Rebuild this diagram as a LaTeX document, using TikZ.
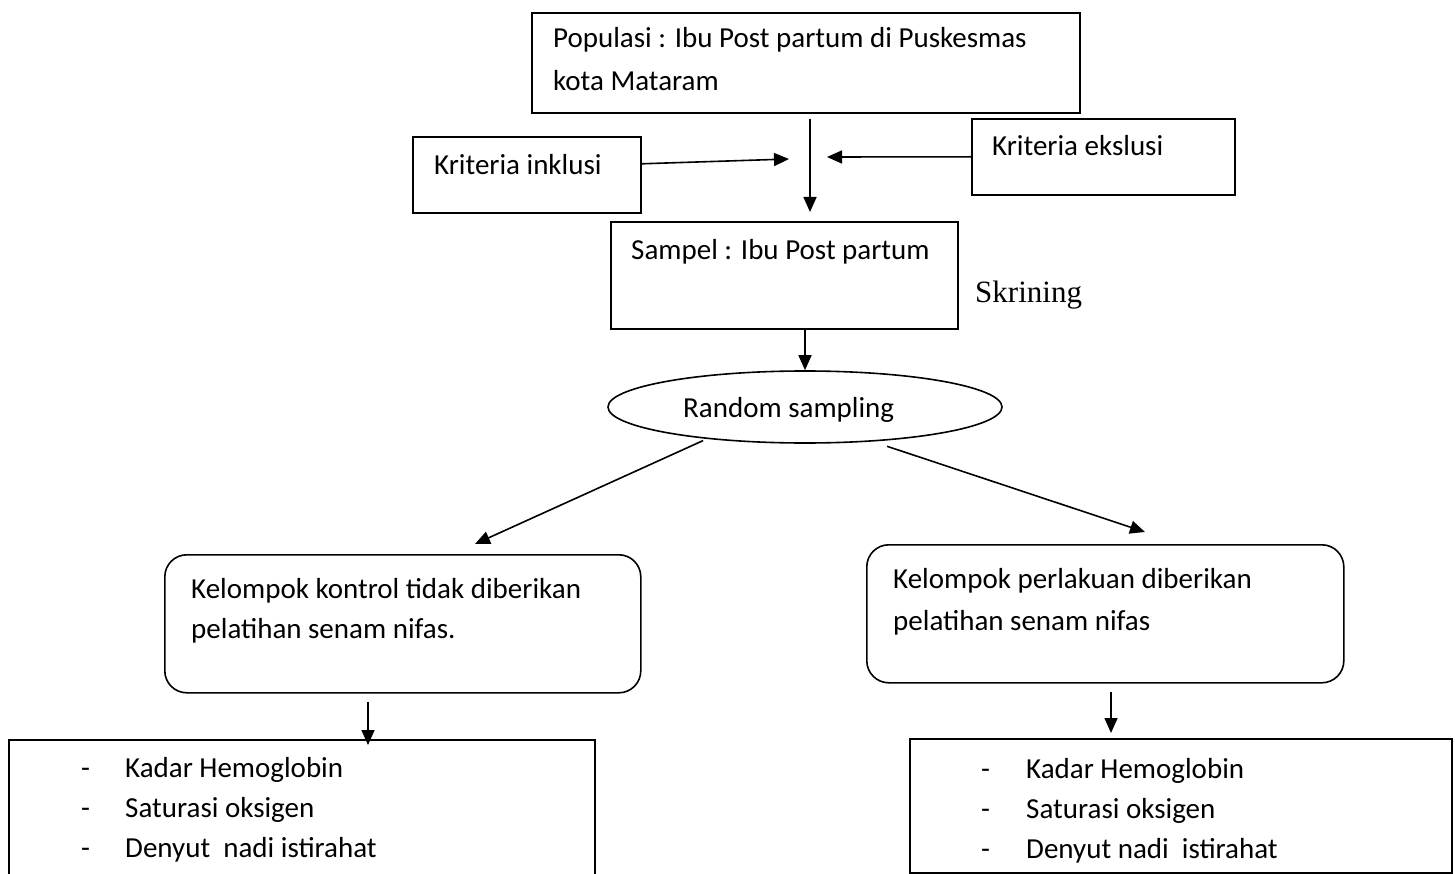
\documentclass[tikz,border=0pt]{standalone}
\usepackage{fontspec}
\setmainfont{Carlito}
\newfontfamily\skrfont{Liberation Serif}
\usetikzlibrary{arrows.meta,shapes.geometric}
\tikzset{
	kasten/.style={draw, line width=1.6pt, anchor=north west, inner sep=0pt},
	rkasten/.style={kasten, rounded corners=22pt},
	txt/.style={anchor=base west, inner sep=0pt, font=\fontsize{29}{43}\selectfont},
	pfeil/.style={line width=1.6pt, -{Triangle[length=15pt,width=13pt]}}
}
\begin{document}
\begin{tikzpicture}[x=1pt,y=-1pt]
	\useasboundingbox (0,0) rectangle (1455,874);
	\clip (0,0) rectangle (1455,874);
	% Populasi
	\node [kasten, minimum width=548pt, minimum height=100pt] (pop) at (531,12) {};
	\node [txt] (popA) at (553,48) {Populasi : Ibu Post partum di Puskesmas};
	\node [txt] (popB) at (553,91) {kota Mataram};
	% Kriterien
	\node [kasten, minimum width=228pt, minimum height=76pt] (inkl) at (412,136) {};
	\node [txt] (inklT) at (434,175) {Kriteria inklusi};
	\node [kasten, minimum width=263pt, minimum height=76pt] (eksl) at (971,118) {};
	\node [txt] (ekslT) at (992,156) {Kriteria ekslusi};
	% Sampel
	\node [kasten, minimum width=347pt, minimum height=107pt] (sampel) at (610,221) {};
	\node [txt] (sampelT) at (631,260) {Sampel : Ibu Post partum};
	\node [anchor=base west, inner sep=0pt, font=\skrfont\fontsize{31}{31}\selectfont] (skr) at (975,302) {Skrining};
	% Random sampling
	\node [draw, ellipse, line width=1.6pt, inner sep=0pt, minimum width=394pt, minimum height=72pt] (rand) at (805,407) {};
	\node [txt] (randT) at (683,417) {Random sampling};
	% Kelompok
	\node [rkasten, minimum width=476pt, minimum height=138pt] (kontrol) at (164,554) {};
	\node [txt] (kontrolA) at (191,598) {Kelompok kontrol tidak diberikan};
	\node [txt] (kontrolB) at (191,638) {pelatihan senam nifas.};
	\node [rkasten, minimum width=477pt, minimum height=138pt] (perl) at (866,544) {};
	\node [txt] (perlA) at (893,588) {Kelompok perlakuan diberikan};
	\node [txt] (perlB) at (893,630) {pelatihan senam nifas};
	% Messgroessen
	\node [kasten, minimum width=586pt, minimum height=141pt] (lmess) at (8,739) {};
	\foreach \t [count=\i] in {Kadar Hemoglobin, Saturasi oksigen, Denyut\ \ nadi istirahat} {
		\node [txt] (ld\i) at (81,737+40*\i) {-};
		\node [txt] (lm\i) at (125,737+40*\i) {\t};
	}
	\node [kasten, minimum width=542pt, minimum height=134pt] (rmess) at (909,738) {};
	\foreach \t [count=\i] in {Kadar Hemoglobin, Saturasi oksigen, Denyut nadi\ \ istirahat} {
		\node [txt] (rd\i) at (981,738+40*\i) {-};
		\node [txt] (rm\i) at (1026,738+40*\i) {\t};
	}
	% Pfeile
	\coordinate (kreuz) at (810,212);
	\coordinate (inklEnde) at (789,159);
	\coordinate (ekslEnde) at (827,157);
	\coordinate (lEnde) at (475,544);
	\coordinate (rEnde) at (1145,532);
	\coordinate (kPfeil) at (368,745);
	\coordinate (pPfeil) at (1111,733);
	\draw [pfeil, shorten <=5pt] (pop.south -| kreuz) -- (kreuz);
	\draw [pfeil] ([yshift=11pt]inkl.east) -- (inklEnde);
	\draw [pfeil] (eksl.west) -- (ekslEnde);
	\draw [pfeil] (sampel.south -| rand.north) -- (rand.north);
	\draw [pfeil, shorten <=4pt] (rand.198) -- (lEnde);
	\draw [pfeil, shorten <=15pt] (rand.333) -- (rEnde);
	\draw [pfeil, shorten <=8pt] (kontrol.south -| kPfeil) -- (kPfeil);
	\draw [pfeil, shorten <=8pt] (perl.south -| pPfeil) -- (pPfeil);
\end{tikzpicture}
\end{document}
